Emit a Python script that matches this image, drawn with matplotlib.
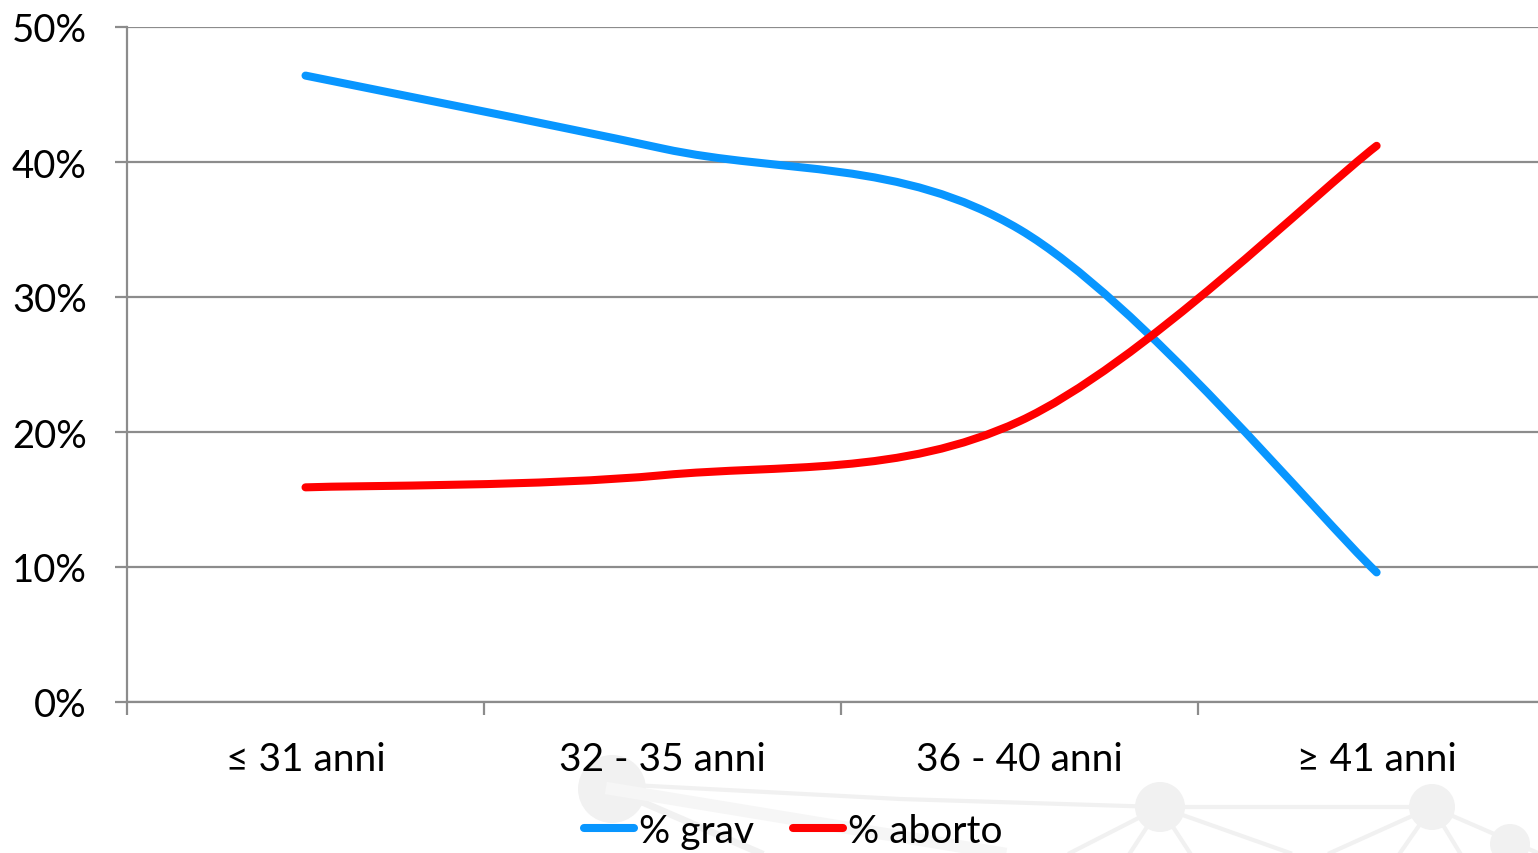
import matplotlib.pyplot as plt
from matplotlib.path import Path
from matplotlib.patches import PathPatch, Circle
from matplotlib.lines import Line2D
import numpy as np

plt.rcParams['font.family'] = ['Lato', 'DejaVu Sans']

categories = ['≤ 31 anni', '32 - 35 anni', '36 - 40 anni', '≥ 41 anni']
grav = [46.4, 41.0, 35.0, 9.6]
aborto = [15.9, 16.8, 20.8, 41.2]

BLUE = '#0896ff'
RED = '#ff0000'
GRID = '#8c8c8c'


def smooth_path(xs, ys):
    """Bezier path through the points, spreadsheet-style smoothing."""
    pts = np.column_stack([xs, ys]).astype(float)
    n = len(pts)
    verts = [pts[0]]
    codes = [Path.MOVETO]
    for i in range(n - 1):
        p0 = pts[i - 1] if i > 0 else pts[i]
        p1 = pts[i]
        p2 = pts[i + 1]
        p3 = pts[i + 2] if i + 2 < n else pts[i + 1]
        c1 = p1 + (p2 - p0) / 6
        c2 = p2 - (p3 - p1) / 6
        verts += [c1, c2, p2]
        codes += [Path.CURVE4] * 3
    return Path(verts, codes)


fig = plt.figure(figsize=(15.38, 8.54), dpi=100)

# faint logo in the background
bg = fig.add_axes([0, 0, 1, 1], zorder=-1)
bg.set_xlim(0, 1538)
bg.set_ylim(854, 0)
bg.axis('off')
shade = '#f1f1f1'
for cx, cy, r in [(612, 790, 34), (1160, 808, 25), (1432, 808, 23), (1510, 845, 20)]:
    bg.add_patch(Circle((cx, cy), r, color=shade, lw=0))
bg.plot([612, 900, 1160, 1432], [785, 800, 808, 808], color=shade, lw=3)
bg.plot([612, 760], [790, 854], color=shade, lw=5)
bg.plot([612, 1000], [790, 854], color='#f6f6f6', lw=9)
for x0, y0, ends in [(1160, 808, [1070, 1130, 1190, 1290]),
                     (1432, 808, [1330, 1400, 1460, 1538])]:
    for xe in ends:
        bg.plot([x0, xe], [y0, 854], color=shade, lw=3)

ax = fig.add_axes([127 / 1538, 1 - 703 / 854, 1 - 127 / 1538, (703 - 28) / 854])
x = np.arange(len(categories))

for vals, color in [(grav, BLUE), (aborto, RED)]:
    ax.add_patch(PathPatch(smooth_path(x, vals), fill=False, edgecolor=color,
                           lw=5.8, capstyle='round', joinstyle='round', zorder=3))

ax.set_xlim(-0.5, 3.452)
ax.set_ylim(0, 50)
ax.set_yticks(np.arange(0, 51, 10))
ax.set_yticklabels([f'{v}%' for v in range(0, 51, 10)])
ax.set_xticks(x)
ax.set_xticklabels(categories)
ax.set_xticks(np.arange(-0.5, 3.0, 1), minor=True)

ax.grid(axis='y', color=GRID, lw=1.6)
ax.set_axisbelow(True)
for side in ['top', 'right']:
    ax.spines[side].set_visible(False)
for side in ['left', 'bottom']:
    ax.spines[side].set_color(GRID)
    ax.spines[side].set_linewidth(1.6)

ax.tick_params(axis='y', length=9, width=1.6, color=GRID, pad=20, labelsize=27.5)
ax.tick_params(axis='x', which='major', length=0, pad=28, labelsize=28)
ax.tick_params(axis='x', which='minor', length=9, width=1.6, color=GRID)

handles = [Line2D([], [], color=BLUE, lw=5.8, solid_capstyle='round'),
           Line2D([], [], color=RED, lw=5.8, solid_capstyle='round')]
fig.legend(handles, ['% grav', '% aborto'], loc='center',
           bbox_to_anchor=(793 / 1538, 1 - 832 / 854), ncol=2, frameon=False,
           fontsize=28, handlelength=1.3, handletextpad=0.12, columnspacing=1.0)

fig.savefig('out.png', dpi=100)
